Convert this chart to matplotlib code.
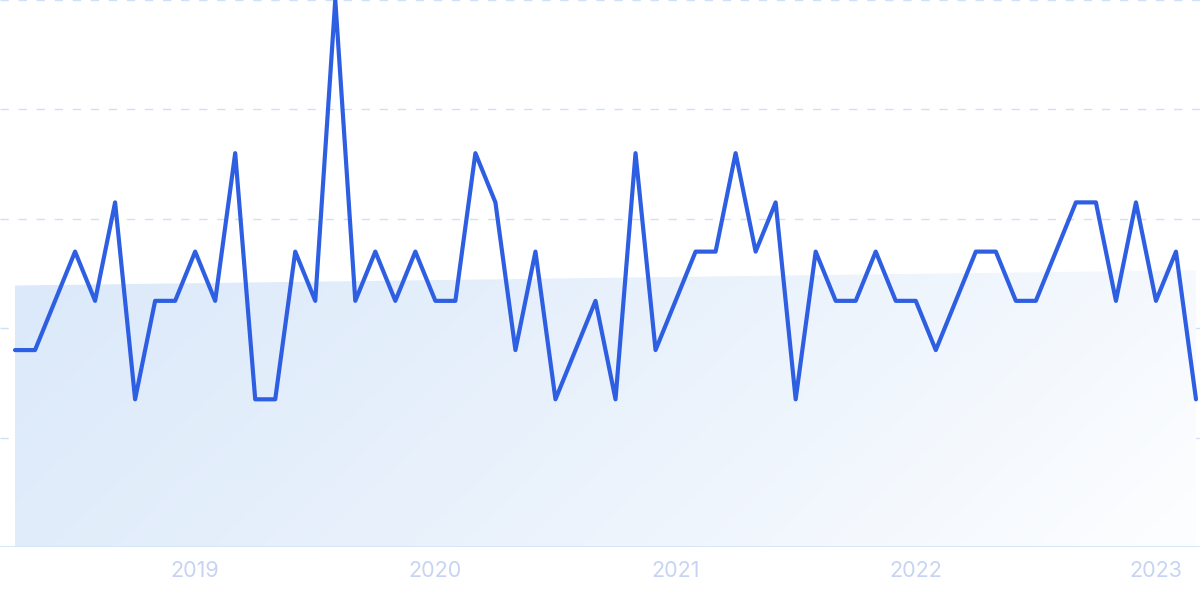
import matplotlib
matplotlib.use("Agg")
import matplotlib.pyplot as plt
import numpy as np
import pandas as pd
from matplotlib.patches import Polygon
from matplotlib.colors import LinearSegmentedColormap

# ---- data ----
start_month = "2018-04-01"
values = [36, 36, 45, 54, 45, 63, 27, 45, 45, 54, 45, 72,
          27, 27, 54, 45, 100, 45, 54, 45, 54, 45, 45, 72,
          63, 36, 54, 27, 36, 45, 27, 72, 36, 45, 54, 54,
          72, 54, 63, 27, 54, 45, 45, 54, 45, 45, 36, 45,
          54, 54, 45, 45, 54, 63, 63, 45, 63, 45, 54, 27]
trend_ends = [47.8, 50.6]   # light trend band, first and last month
y_grid = [20, 40, 60, 80, 100]

dates = pd.date_range(start_month, periods=len(values), freq="MS")
x = np.arange(len(values))
tick_pos = [i for i, d in enumerate(dates) if d.month == 1]
tick_lab = [str(dates[i].year) for i in tick_pos]

# ---- figure ----
fig = plt.figure(figsize=(12, 5.99), dpi=100)
ax = fig.add_axes([0, 52 / 599, 1, 547 / 599])
ax.set_xlim(-0.75, 59.2)
ax.set_ylim(0, 100)

for g in y_grid:
    ax.axhline(g, color="#cfe1f9", lw=1.0, ls=(0, (6, 7)), zorder=1)
ax.axhline(0, color="#d4e5f8", lw=2.0, zorder=2, xmax=0.998)

# gradient fill under trend
trend_y = np.interp(x, [x[0], x[-1]], trend_ends)
verts = [(x[0], 0)] + list(zip(x, trend_y)) + [(x[-1], 0)]
poly = Polygon(verts, closed=True, facecolor="none", edgecolor="none")
ax.add_patch(poly)
cmap = LinearSegmentedColormap.from_list("g", ["#dbe9fa", "#eaf2fc", "#fdfeff"])
gx, gy = np.meshgrid(np.linspace(0, 1, 300), np.linspace(0, 1, 200))
grad = (gx * 0.8 + gy * 0.2)
im = ax.imshow(grad, extent=[x[0], x[-1], 0, max(trend_ends)], origin="upper",
               cmap=cmap, aspect="auto", zorder=1.5, vmin=0, vmax=1.0)
im.set_clip_path(poly)

ax.plot(x, values, color="#2e5fe2", lw=3.0, solid_joinstyle="round",
        solid_capstyle="round", zorder=3, clip_on=True)

ax.set_xticks(tick_pos)
ax.set_xticklabels(tick_lab, fontfamily="Inter", fontsize=15.5, color="#c6d4f4")
ax.tick_params(axis="x", length=0, pad=10)
ax.set_yticks([])
for s in ax.spines.values():
    s.set_visible(False)
ax.patch.set_alpha(0)

fig.savefig("out.png", dpi=100)
